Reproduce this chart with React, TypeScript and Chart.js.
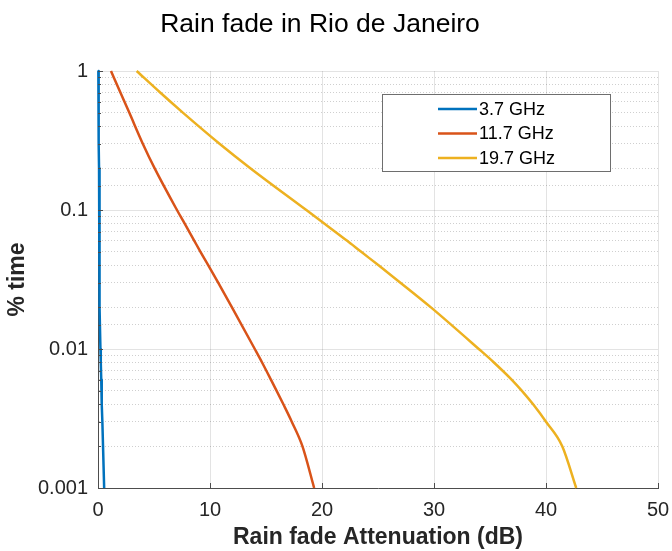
import React, { useEffect, useRef } from 'react';
import { Chart, registerables } from 'chart.js';

Chart.register(...registerables);

const chartTitle = 'Rain fade in Rio de Janeiro';
const xAxisTitle = 'Rain fade Attenuation (dB)';
const yAxisTitle = '% time';
const seriesLabels = ['3.7 GHz', '11.7 GHz', '19.7 GHz'];
const seriesColors = ['#0072BD', '#D95319', '#EDB120'];

// percentage of time (y) shared by all series
const percentTime = [1, 0.7, 0.5, 0.3, 0.2, 0.1, 0.08, 0.06, 0.05, 0.04, 0.03, 0.02, 0.01, 0.008, 0.006, 0.005, 0.004, 0.003, 0.002, 0.001];
// attenuation in dB (x) for each series
const atten3_7 = [0.03, 0.044, 0.057, 0.077, 0.093, 0.12, 0.125, 0.132, 0.137, 0.143, 0.15, 0.16, 0.217, 0.249, 0.29, 0.317, 0.349, 0.39, 0.449, 0.55];
const atten11_7 = [1.16, 2.0, 2.8, 4.0, 5.05, 7.05, 7.73, 8.6, 9.15, 9.85, 10.73, 11.95, 14.0, 14.65, 15.45, 15.95, 16.55, 17.3, 18.25, 19.3];
const atten19_7 = [3.45, 5.55, 7.6, 10.85, 13.6, 18.6, 20.2, 22.25, 23.5, 25.05, 27.0, 29.7, 34.0, 35.35, 36.95, 37.85, 38.85, 40.0, 41.45, 42.7];

const xTickValues = [0, 10, 20, 30, 40, 50];
const yTickValues = [0.001, 0.01, 0.1, 1];
const yTickLabels = ['0.001', '0.01', '0.1', '1'];

const FONT = '"Liberation Sans", Arial, Helvetica, sans-serif';
const AXIS_COLOR = '#262626';

const isMajor = (v: number | undefined) => {
  if (v === undefined || v === null) return true;
  const e = Math.log10(v);
  return Math.abs(e - Math.round(e)) < 1e-6;
};

const decorPlugin = {
  id: 'matlabDecor',
  afterDraw(chart: any) {
    const { ctx, chartArea, scales } = chart;
    const xs = scales.x;
    const ys = scales.y;
    ctx.save();
    // inward ticks
    ctx.strokeStyle = '#4d4d4d';
    ctx.lineWidth = 1;
    ys.ticks.forEach((t: any) => {
      const py = Math.round(ys.getPixelForValue(t.value)) + 0.5;
      const len = isMajor(t.value) ? 5 : 3;
      ctx.beginPath();
      ctx.moveTo(chartArea.left, py);
      ctx.lineTo(chartArea.left + len, py);
      ctx.stroke();
    });
    xTickValues.forEach((v) => {
      const px = Math.round(xs.getPixelForValue(v)) + 0.5;
      ctx.beginPath();
      ctx.moveTo(px, chartArea.bottom);
      ctx.lineTo(px, chartArea.bottom - 5);
      ctx.stroke();
    });

    // title
    ctx.fillStyle = '#000';
    ctx.font = `26.5px ${FONT}`;
    ctx.textAlign = 'center';
    ctx.textBaseline = 'alphabetic';
    ctx.fillText(chartTitle, 320, 32);

    // legend box
    const bx = 382.5, by = 94.5, bw = 228, bh = 77;
    ctx.fillStyle = '#fff';
    ctx.fillRect(bx, by, bw, bh);
    ctx.strokeStyle = '#6e6e6e';
    ctx.lineWidth = 1;
    ctx.strokeRect(bx, by, bw, bh);
    ctx.font = `18px ${FONT}`;
    ctx.textAlign = 'left';
    ctx.textBaseline = 'middle';
    chart.data.datasets.forEach((ds: any, i: number) => {
      const ry = 109 + i * 24.5;
      ctx.strokeStyle = ds.borderColor;
      ctx.lineWidth = 2.5;
      ctx.beginPath();
      ctx.moveTo(438, ry);
      ctx.lineTo(477, ry);
      ctx.stroke();
      ctx.fillStyle = '#000';
      ctx.fillText(ds.label, 479, ry + 1);
    });
    ctx.restore();
  },
};

export default function App() {
  const canvasRef = useRef<HTMLCanvasElement | null>(null);

  useEffect(() => {
    const canvas = canvasRef.current;
    if (!canvas) return;
    const seriesX = [atten3_7, atten11_7, atten19_7];
    const chart = new Chart(canvas, {
      type: 'line',
      data: {
        datasets: seriesX.map((xs, i) => ({
          label: seriesLabels[i],
          data: xs.map((x, j) => ({ x, y: percentTime[j] })),
          borderColor: seriesColors[i],
          backgroundColor: seriesColors[i],
          borderWidth: 2.5,
          pointRadius: 0,
          tension: 0,
          cubicInterpolationMode: i === 0 ? 'default' : 'monotone',
          borderJoinStyle: 'round',
          fill: false,
          clip: false as any,
        })),
      },
      options: {
        animation: false,
        responsive: false,
        maintainAspectRatio: false,
        layout: { padding: { top: 71, right: 14, left: 0, bottom: 0 } },
        plugins: {
          legend: { display: false },
          title: { display: false },
          tooltip: { enabled: false },
        },
        scales: {
          x: {
            type: 'linear',
            min: 0,
            max: 50,
            afterFit: (s: any) => { s.height = 63; s.paddingLeft = 0; s.paddingRight = 0; },
            ticks: {
              stepSize: 10,
              autoSkip: false,
              maxRotation: 0,
              padding: 10,
              color: AXIS_COLOR,
              font: { family: FONT, size: 20 },
              callback: (v: any) => (xTickValues.includes(Number(v)) ? String(v) : ''),
            },
            grid: { color: 'rgba(38,38,38,0.13)', lineWidth: 1, drawTicks: false },
            border: { color: '#4d4d4d', width: 1 },
            title: {
              display: true,
              text: xAxisTitle,
              color: AXIS_COLOR,
              font: { family: FONT, size: 23, weight: 'bold' },
              padding: { top: 0, bottom: 0 },
            },
          },
          y: {
            type: 'logarithmic',
            min: 0.001,
            max: 1,
            afterFit: (s: any) => { s.width = 98; s.paddingTop = 0; s.paddingBottom = 0; },
            ticks: {
              autoSkip: false,
              padding: 10,
              color: AXIS_COLOR,
              font: { family: FONT, size: 20 },
              callback: (v: any) => {
                const idx = yTickValues.findIndex((t) => Math.abs(Math.log10(t) - Math.log10(Number(v))) < 1e-6);
                return idx >= 0 ? yTickLabels[idx] : '';
              },
            },
            grid: {
              color: (c: any) => (isMajor(c.tick?.value) ? 'rgba(38,38,38,0.13)' : 'rgba(38,38,38,0.22)'),
              lineWidth: 1,
              drawTicks: false,
            },
            border: {
              color: '#4d4d4d',
              width: 1,
              dash: (c: any) => (c.tick && !isMajor(c.tick.value) ? [1, 2] : []),
            },
            title: {
              display: true,
              text: yAxisTitle,
              color: AXIS_COLOR,
              font: { family: FONT, size: 23, weight: 'bold' },
              padding: { top: 4, bottom: 0 },
            },
          },
        },
      },
      plugins: [decorPlugin],
    } as any);
    return () => chart.destroy();
  }, []);

  return (
    <div style={{ position: 'absolute', left: 0, top: 0, width: 672, height: 551, background: '#fff' }}>
      <canvas ref={canvasRef} width={672} height={551} style={{ display: 'block', width: 672, height: 551 }} />
    </div>
  );
}
